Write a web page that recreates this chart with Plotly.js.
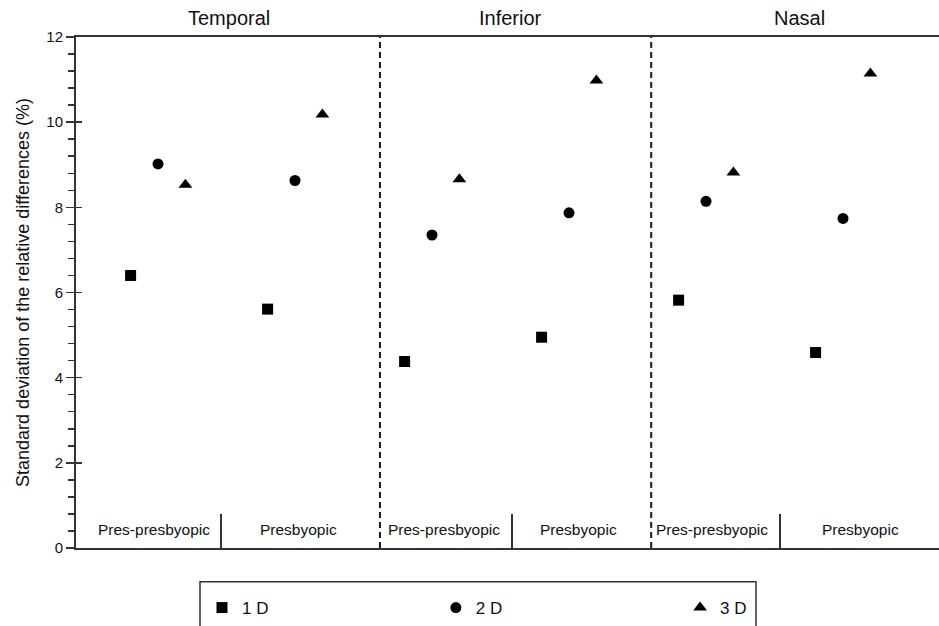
<!DOCTYPE html>
<html>
<head>
<meta charset="utf-8">
<script src="https://cdn.plot.ly/plotly-3.0.1.min.js"></script>
<style>
  html, body { margin: 0; padding: 0; background: #fff; }
  #chart { width: 939px; height: 626px; }
</style>
</head>
<body>
<div id="chart"></div>
<script>
// ---- data ----
const regions = ['Temporal', 'Inferior', 'Nasal'];
const groups = ['Pres-presbyopic', 'Presbyopic', 'Pres-presbyopic', 'Presbyopic', 'Pres-presbyopic', 'Presbyopic'];
const seriesNames = ['1 D', '2 D', '3 D'];
const values1D = [6.40, 5.61, 4.38, 4.95, 5.82, 4.59];
const values2D = [9.02, 8.63, 7.35, 7.87, 8.14, 7.74];
const values3D = [8.53, 10.18, 8.66, 10.98, 8.82, 11.14];
const yTickVals = [0, 2, 4, 6, 8, 10, 12];

// ---- layout helpers (positions / styles) ----
const seriesOffset = [-0.2, 0, 0.2];
const seriesSymbol = ['square', 'circle', 'triangle-up'];
const seriesSize = [11, 11, 12];
const groupLabelX = [0.971, 2.022, 3.09, 4.066, 5.044, 6.131];
const regionTitleX = [1.518, 3.57, 5.686];
const regionDividers = [2.62, 4.60];
const subDividers = [1.46, 3.584, 5.54];
const legendX = [0.146, 0.417, 0.700];

const FONT = 'Liberation Sans, Arial, Helvetica, sans-serif';
const INK = '#111';
const LINE = '#333';

const allValues = [values1D, values2D, values3D];
const traces = allValues.map((vals, s) => ({
  type: 'scatter',
  mode: 'markers',
  name: seriesNames[s],
  x: vals.map((v, i) => i + 1 + seriesOffset[s]),
  y: vals,
  legend: s === 0 ? 'legend' : ('legend' + (s + 1)),
  marker: { symbol: seriesSymbol[s], size: seriesSize[s], color: '#000', line: { width: 0 } },
  hoverinfo: 'skip'
}));

const shapes = [];
regionDividers.forEach(x => shapes.push({
  type: 'line', xref: 'x', yref: 'y', x0: x, x1: x, y0: 0, y1: 12,
  line: { color: '#1a1a1a', width: 2, dash: '6px,4px' }
}));
subDividers.forEach(x => shapes.push({
  type: 'line', xref: 'x', yref: 'y', x0: x, x1: x, y0: 0, y1: 0.8,
  line: { color: LINE, width: 2 }
}));
// legend frame
shapes.push({
  type: 'rect', xref: 'paper', yref: 'paper',
  x0: (200 - 76) / 863, x1: (756 - 76) / 863,
  y0: (552 - 586) / 515, y1: (552 - 640) / 515,
  line: { color: '#333', width: 1.5 }, fillcolor: 'rgba(0,0,0,0)'
});

const annotations = [];
regions.forEach((r, i) => annotations.push({
  text: r, xref: 'x', yref: 'paper', x: regionTitleX[i], y: 1 + (37 - 18) / 515,
  xanchor: 'center', yanchor: 'middle', showarrow: false,
  font: { family: FONT, size: 20, color: INK }
}));
groups.forEach((g, i) => annotations.push({
  text: g, xref: 'x', yref: 'y', x: groupLabelX[i], y: 0.44,
  xanchor: 'center', yanchor: 'middle', showarrow: false,
  font: { family: FONT, size: 15.5, color: INK }
}));

const legendBase = {
  orientation: 'h', xanchor: 'left', yanchor: 'middle', y: (552 - 613) / 515,
  bgcolor: 'rgba(0,0,0,0)', borderwidth: 0, itemwidth: 30,
  font: { family: FONT, size: 17, color: INK }
};

const layout = {
  width: 939, height: 626,
  margin: { l: 76, r: 0, t: 37, b: 74 },
  paper_bgcolor: '#fff', plot_bgcolor: '#fff',
  showlegend: true,
  legend: Object.assign({}, legendBase, { x: legendX[0] }),
  legend2: Object.assign({}, legendBase, { x: legendX[1] }),
  legend3: Object.assign({}, legendBase, { x: legendX[2] }),
  xaxis: {
    range: [0.4015, 6.7007], showline: true, mirror: true, linecolor: LINE, linewidth: 2,
    showgrid: false, zeroline: false, showticklabels: false, ticks: '', fixedrange: true
  },
  yaxis: {
    range: [0, 12], tickvals: yTickVals, ticktext: yTickVals.map(String),
    ticks: 'outside', ticklen: 8, tickwidth: 1.6, tickcolor: LINE,
    minor: { dtick: 0.4, ticks: 'outside', ticklen: 6, tickwidth: 1.5, tickcolor: LINE, showgrid: false },
    showline: true, linecolor: LINE, linewidth: 2, showgrid: false, zeroline: false,
    tickfont: { family: FONT, size: 15, color: INK },
    title: { text: 'Standard deviation of the relative differences (%)', standoff: 12,
             font: { family: FONT, size: 18, color: INK } },
    automargin: false, fixedrange: true
  },
  yaxis2: {
    range: [0, 12], overlaying: 'y', side: 'left', tickvals: yTickVals,
    ticks: 'inside', ticklen: 6, tickwidth: 1.6, tickcolor: LINE,
    showticklabels: false, showline: false, showgrid: false, zeroline: false, fixedrange: true
  },
  shapes: shapes,
  annotations: annotations
};

// invisible carrier trace so yaxis2 is drawn
traces.push({ type: 'scatter', mode: 'markers', x: [1], y: [0], yaxis: 'y2',
  marker: { opacity: 0 }, showlegend: false, hoverinfo: 'skip' });

Plotly.newPlot('chart', traces, layout, { displayModeBar: false, staticPlot: true });
</script>
</body>
</html>
